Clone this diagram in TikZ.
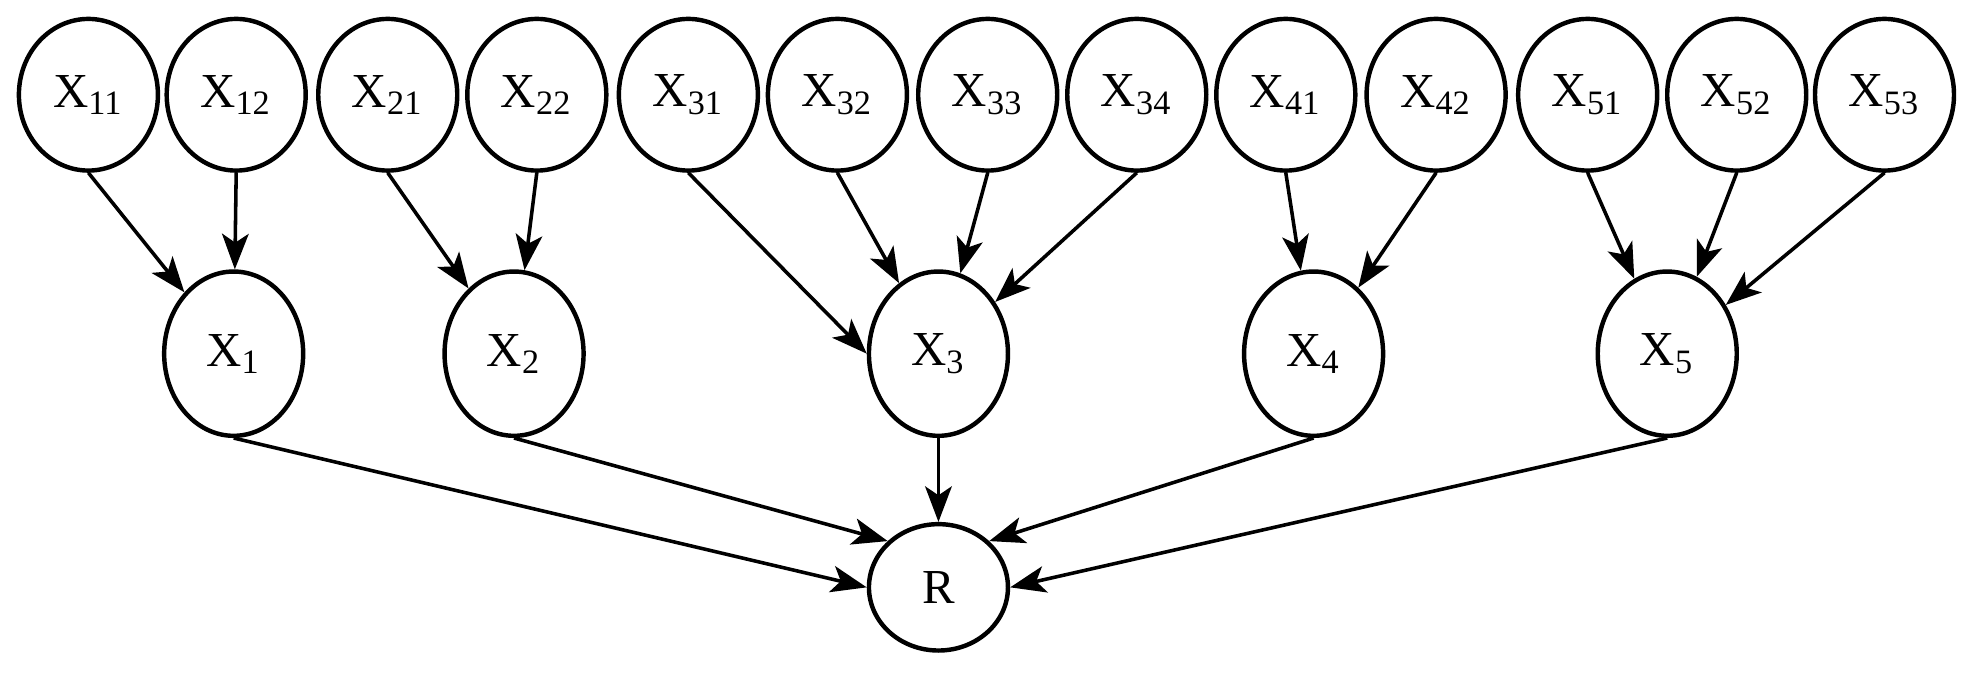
\documentclass[tikz,border=0pt]{standalone}
\usepackage{fontspec}
\setmainfont{Liberation Serif}
\usetikzlibrary{shapes.geometric,arrows.meta}
\begin{document}
\begin{tikzpicture}[x=0.01cm,y=0.01cm,
  nd/.style={ellipse,draw,line width=1pt,inner sep=0pt,minimum width=1.1cm,minimum height=1.2cm,font=\fontsize{11}{13}\selectfont},
  md/.style={nd,minimum height=1.3cm},
  ar/.style={-{Stealth[length=8pt,width=6pt,inset=2pt]},line width=0.8pt}]
\useasboundingbox (0,0) rectangle (1570,535);
\foreach \n/\x in {11/70,12/187,21/307,22/425,31/545,32/663,33/782,34/900,41/1018,42/1137,51/1257,52/1375,53/1492}
  \node[nd] (x\n) at (\x,460) {X\textsubscript{\n}};
\foreach \n/\x in {1/185,2/407,3/743,4/1040,5/1320}
  \node[md] (x\n) at (\x,255) {X\textsubscript{\n}};
\node[nd,minimum height=1.0cm] (r) at (743,70) {R};
\foreach \a/\b in {11/1,12/1,21/2,22/2,32/3,33/3,34/3,41/4,42/4,51/5,52/5,53/5}
  \draw[ar] (x\a.south) -- (x\b);
\draw[ar] (x31.south) -- (x3.west);
\draw[ar] (x1.south) -- (r.west);
\draw[ar] (x2.south) -- (r.north west);
\draw[ar] (x3.south) -- (r.north);
\draw[ar] (x4.south) -- (r.north east);
\draw[ar] (x5.south) -- (r.east);
\end{tikzpicture}
\end{document}
